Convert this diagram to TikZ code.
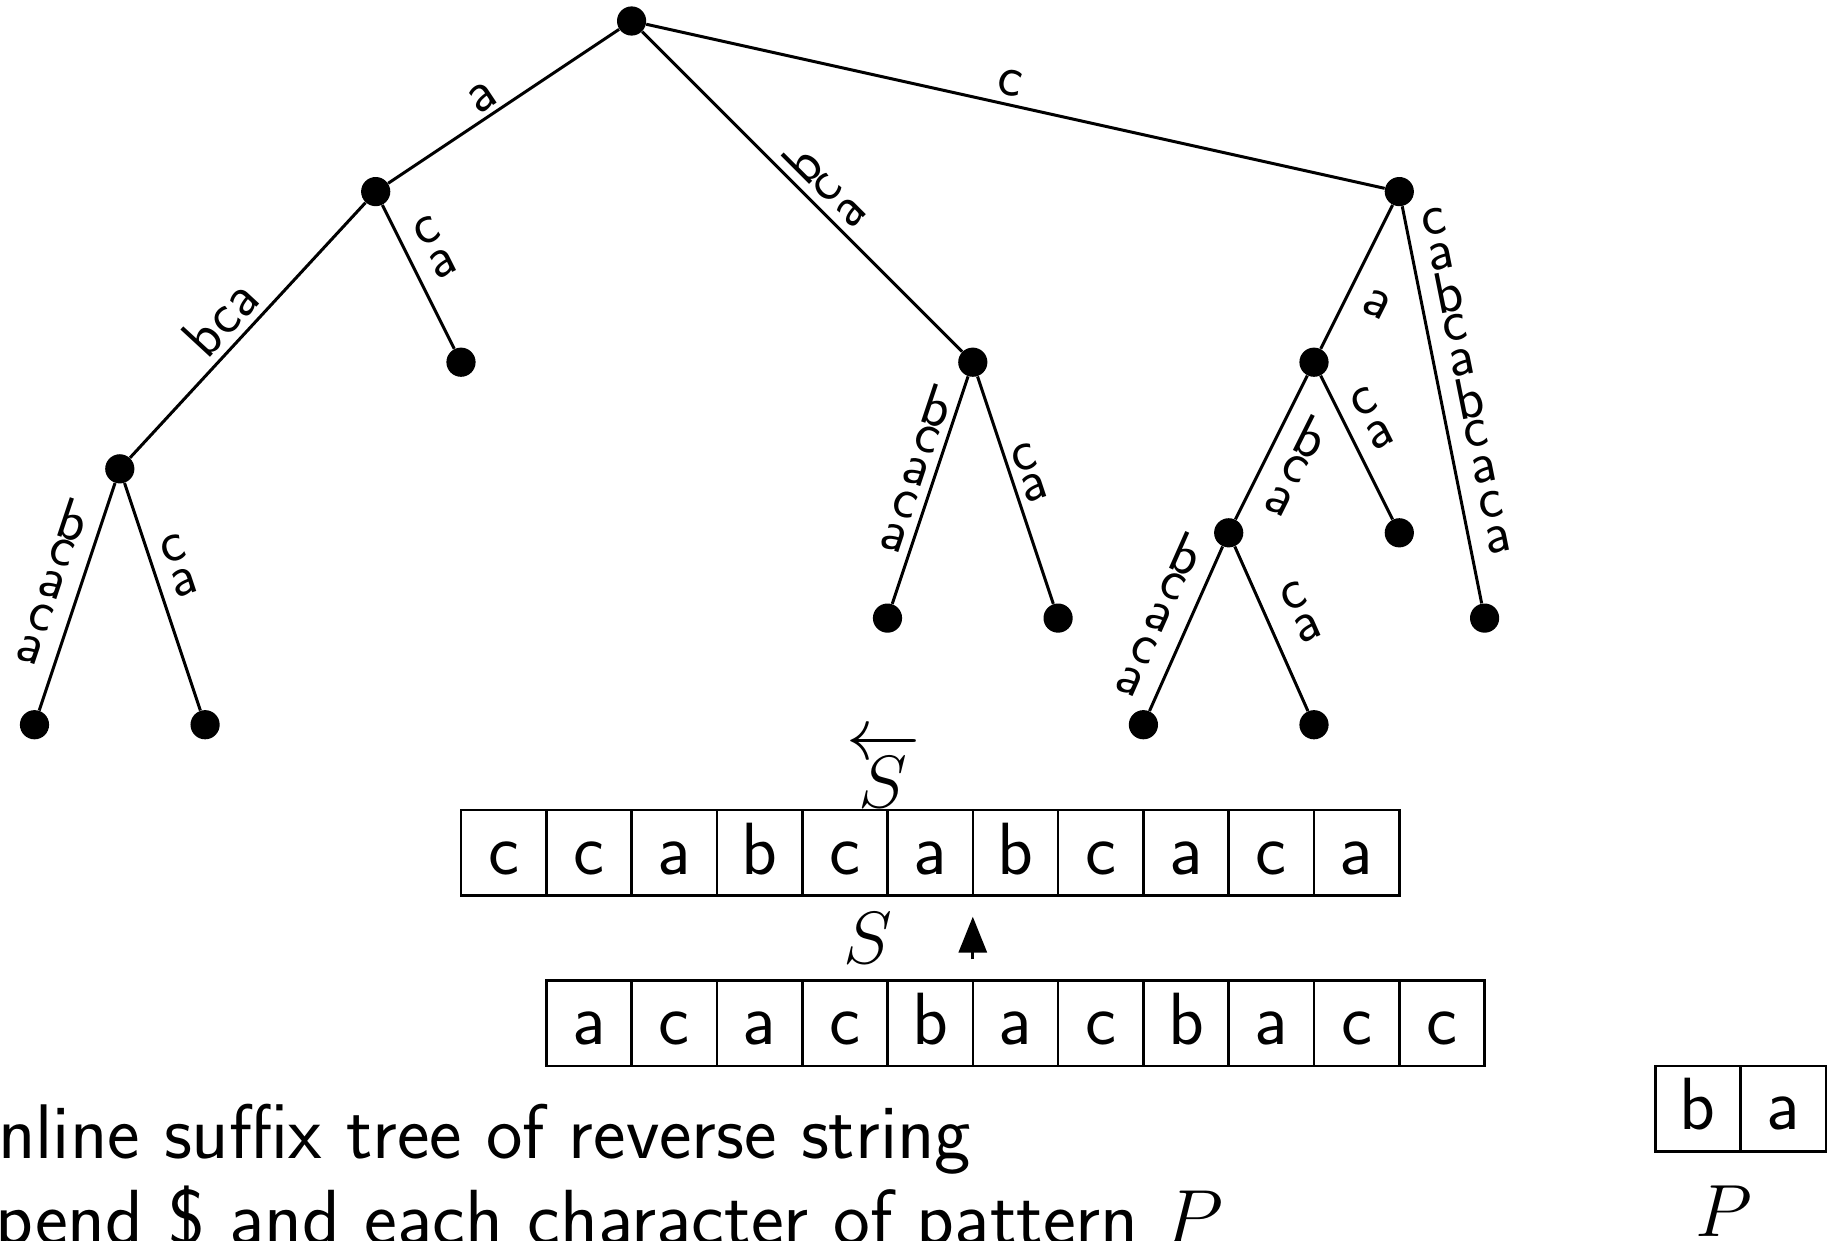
\RequirePackage{fix-cm}
\documentclass[tikz,border=0pt]{standalone}
\usetikzlibrary{calc,arrows.meta}
% edge label: #1 parent, #2 child, #3 start (px from parent), #4 side offset (px, + = left of travel),
% #5 pitch (px), #6 extra rotation, #7 letters
\newcommand\elab[7]{%
  \pgfmathanglebetweenpoints{\pgfpointanchor{#2}{center}}{\pgfpointanchor{#1}{center}}%
  \pgfmathsetmacro\elrot{\pgfmathresult+#6}%
  \pgfmathsetmacro\elo{#4*0.5}%
  \foreach \ch [count=\i from 0] in {#7}{%
    \pgfmathsetmacro\eld{(#3+\i*#5)*0.5}%
    \coordinate (elP) at ($(#1)!\eld pt!(#2)$);%
    \node[lbl, rotate=\elrot] at ($(elP)!\elo pt!90:(#2)$) {\ch};%
  }%
}
\begin{document}
\begin{tikzpicture}[x=21.325pt,y=-21.325pt,
  dot/.style={circle,fill=black,inner sep=0pt,minimum size=14.6pt},
  edge/.style={line width=1.5pt},
  lbl/.style={font=\fontsize{29}{35}\selectfont\sffamily,inner sep=0pt},
  cell/.style={draw,line width=1.3pt,minimum width=42.65pt,minimum height=42.65pt,inner sep=0pt,
    text height=25pt,text depth=3.67pt,font=\fontsize{37}{44}\selectfont\sffamily},
  txt/.style={font=\fontsize{38.7}{46}\selectfont\sffamily,inner sep=0pt,anchor=base west},
  mth/.style={font=\fontsize{37}{44}\selectfont,inner sep=0pt},
  ptr/.style={line width=1.6pt,-{Triangle[length=18pt,width=14pt]}},
]
\useasboundingbox (-10.8089,-0.49238) rectangle (32.2626,28.6049);
% tree nodes
\node[dot] (root) at (4,0) {};
\node[dot] (A) at (-2,4) {};
\node[dot] (L1) at (0,8) {};
\node[dot] (B) at (-8,10.5) {};
\node[dot] (LL) at (-10,16.5) {};
\node[dot] (RL) at (-6,16.5) {};
\node[dot] (C) at (12,8) {};
\node[dot] (CL) at (10,14) {};
\node[dot] (CR) at (14,14) {};
\node[dot] (D) at (22,4) {};
\node[dot] (E) at (20,8) {};
\node[dot] (F) at (22,12) {};
\node[dot] (G) at (18,12) {};
\node[dot] (GL) at (16,16.5) {};
\node[dot] (GR) at (20,16.5) {};
\node[dot] (H) at (24,14) {};
% edges
\draw[edge] (root) -- (A);
\draw[edge] (A) -- (B);
\draw[edge] (A) -- (L1);
\draw[edge] (B) -- (LL);
\draw[edge] (B) -- (RL);
\draw[edge] (root) -- (C);
\draw[edge] (C) -- (CL);
\draw[edge] (C) -- (CR);
\draw[edge] (root) -- (D);
\draw[edge] (D) -- (E);
\draw[edge] (D) -- (H);
\draw[edge] (E) -- (F);
\draw[edge] (E) -- (G);
\draw[edge] (G) -- (GL);
\draw[edge] (G) -- (GR);
% edge labels
\elab{root}{A}{166.7}{-19}{0}{0}{a}
\elab{A}{B}{198}{-29}{0}{0}{bca}
\elab{A}{L1}{57.6}{28}{36.6}{-90}{c,a}
\elab{B}{LL}{63.7}{-28}{34}{-90}{b,c,a,c,a}
\elab{B}{RL}{92.2}{25}{36}{-90}{c,a}
\elab{root}{C}{222}{20}{34}{-90}{b,c,a}
\elab{C}{CL}{53.1}{-19.5}{34.5}{-90}{b,c,a,c,a}
\elab{C}{CR}{106.7}{18.5}{31}{-90}{c,a}
\elab{root}{D}{383.4}{21.4}{0}{-180}{c}
\elab{D}{E}{110.9}{30.6}{0}{-90}{a}
\elab{D}{H}{35.9}{28}{36.1}{-90}{c,a,b,c,a,b,c,a,c,a}
\elab{E}{F}{57.7}{26.3}{36}{-90}{c,a}
\elab{E}{G}{68}{31}{36}{-90}{b,c,a}
\elab{G}{GL}{36.3}{-30}{34.9}{-90}{b,c,a,c,a}
\elab{G}{GR}{84.2}{33}{34.6}{-90}{c,a}
% reverse string
\foreach \c [count=\i from 0] in {c,c,a,b,c,a,b,c,a,c,a}
  \node[cell] (u\i) at (2*\i+1,19.5) {\c};
% string
\foreach \c [count=\i from 0] in {a,c,a,c,b,a,c,b,a,c,c}
  \node[cell] (s\i) at (2*\i+3,23.5) {\c};
% pattern
\node[cell] (p0) at (29,25.5) {b};
\node[cell] (p1) at (31,25.5) {a};
% math labels
\node[mth,anchor=base] (Srev) at (9.9,18.45) {$\overleftarrow{S}$};
\node[mth] (Slab) at (9.55,21.5) {$S$};
\node[mth,anchor=base] (Plab) at (29.6,28.5) {$P$};
\coordinate (ptrtail) at (12,22.0);
\coordinate (ptrtip) at (12,21.0);
\draw[ptr] (ptrtail) -- (ptrtip);
% caption lines
\node[txt] (line1) at (-11.716,26.66) {online suffix tree of reverse string};
\node[txt,font=\fontsize{39.1}{47}\selectfont\sffamily] (line2) at (-12.64,28.68) {append \$ and each character of pattern $P$};
\end{tikzpicture}
\end{document}
